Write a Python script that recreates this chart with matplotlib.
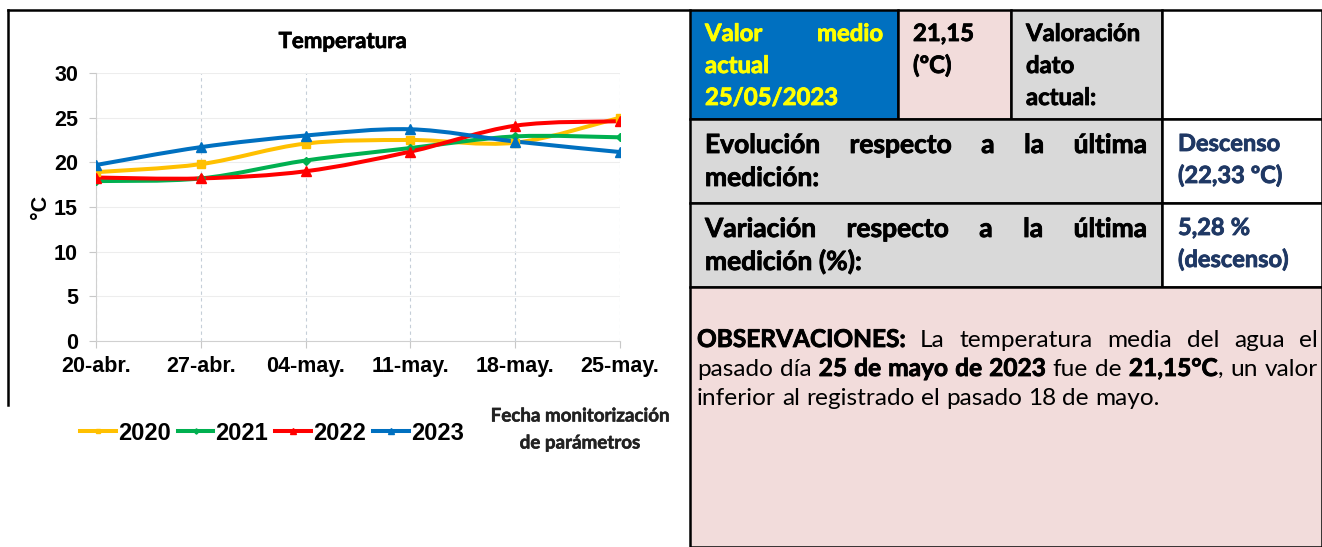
import numpy as np
import matplotlib
matplotlib.use("Agg")
import matplotlib.pyplot as plt
import matplotlib.patheffects as pe
from matplotlib.path import Path
from matplotlib.patches import PathPatch, Rectangle
from matplotlib.lines import Line2D

# ---- data -------------------------------------------------------------
fechas = ["20-abr.", "27-abr.", "04-may.", "11-may.", "18-may.", "25-may."]
t2020 = [18.9, 19.8, 22.1, 22.5, 22.2, 25.0]
t2021 = [17.9, 18.2, 20.2, 21.6, 22.9, 22.8]
t2022 = [18.3, 18.2, 19.0, 21.2, 24.1, 24.6]
t2023 = [19.7, 21.7, 23.0, 23.7, 22.33, 21.15]
anios = ["2020", "2021", "2022", "2023"]
series = [t2020, t2021, t2022, t2023]
colores = ["#FFC000", "#00B050", "#FF0000", "#0070C0"]
marcadores = [("s", 6), ("D", 4.5), ("^", 7), ("^", 7)]

NARROW = ["Liberation Sans Narrow", "Liberation Sans", "DejaVu Sans"]
SANS = ["Lato", "DejaVu Sans"]
W, H = 1322, 547


def smooth_path(xs, ys):
    # Bezier through the points (Excel-like "smoothed line")
    pts = np.column_stack([xs, ys]).astype(float)
    ext = np.vstack([pts[0], pts, pts[-1]])
    verts = [pts[0]]
    codes = [Path.MOVETO]
    for i in range(len(pts) - 1):
        p0, p1, p2, p3 = ext[i], ext[i + 1], ext[i + 2], ext[i + 3]
        verts += [p1 + (p2 - p0) / 6, p2 - (p3 - p1) / 6, p2]
        codes += [Path.CURVE4] * 3
    return Path(verts, codes)


fig = plt.figure(figsize=(W / 100, H / 100), dpi=100)
fig.patch.set_facecolor("white")

# ---- chart -------------------------------------------------------------
ax = fig.add_axes([96 / W, 1 - 341 / H, 524 / W, 268 / H])
x = np.arange(len(fechas))
for vals, col, (mk, ms) in zip(series, colores, marcadores):
    ax.add_patch(PathPatch(smooth_path(x, vals), facecolor="none",
                           edgecolor=col, lw=2.9, capstyle="round", zorder=3))
    ax.plot(x, vals, ls="none", marker=mk, ms=ms, color=col, zorder=4)

ax.set_xlim(0, 5)
ax.set_ylim(0, 30)
ax.set_yticks(range(0, 31, 5))
ax.set_xticks(x)
ax.set_xticklabels(fechas)
for lab in ax.get_xticklabels() + ax.get_yticklabels():
    lab.set_family(NARROW)
    lab.set_fontweight("bold")
    lab.set_fontsize(15.5)
ax.tick_params(axis="both", colors="#C8C8C8", labelcolor="black", length=5)
ax.tick_params(axis="x", pad=6)
ax.tick_params(axis="y", pad=8)
ax.grid(axis="x", color="#C5CED8", ls=(0, (3, 3)), lw=0.8)
ax.grid(axis="y", color="#EDEDED", lw=0.8)
for s in ["top", "right"]:
    ax.spines[s].set_visible(False)
for s in ["left", "bottom"]:
    ax.spines[s].set_color("#D0D0D0")
ax.set_ylabel("°C", family=NARROW, fontweight="bold", fontsize=15.5, labelpad=2)
ax.set_title("Temperatura", family=SANS, fontweight="bold", fontsize=16, pad=18,
             x=(343 - 96) / 524,
             path_effects=[pe.withStroke(linewidth=0.5, foreground="black")])

handles = [Line2D([], [], color=c, lw=2.9, marker=m, ms=s * 0.6)
           for c, (m, s) in zip(colores, marcadores)]
fig.legend(handles, anios, loc="center", bbox_to_anchor=(272 / W, 1 - 433 / H),
           ncol=4, frameon=False, handlelength=1.5, handletextpad=0.1,
           columnspacing=0.3, prop={"family": NARROW, "weight": "bold", "size": 17})

# ---- overlay in pixel coordinates -----------------------------------------
ov = fig.add_axes([0, 0, 1, 1], zorder=-1)
ov.set_xlim(0, W)
ov.set_ylim(H, 0)
ov.axis("off")
ov.patch.set_alpha(0)

for yy, txt in [(416, "Fecha monitorización"), (443, "de parámetros")]:
    ov.text(580, yy, txt, family=SANS, fontweight="bold", fontsize=13.5,
            ha="center", va="center", color="#222222",
            path_effects=[pe.withStroke(linewidth=0.4, foreground="#222222")])

# chart frame
ov.plot([8, 690], [10, 10], color="black", lw=1.8)
ov.plot([8, 8], [10, 405], color="black", lw=1.8)

# table cells
celdas = [
    (690, 10, 898, 119, "#0070C0"),
    (898, 10, 1011, 119, "#F2DCDB"),
    (1011, 10, 1162, 119, "#D9D9D9"),
    (1162, 10, 1322, 119, "white"),
    (690, 119, 1162, 203, "#D9D9D9"),
    (1162, 119, 1322, 203, "white"),
    (690, 203, 1162, 287, "#D9D9D9"),
    (1162, 203, 1322, 287, "white"),
    (690, 287, 1322, 547, "#F2DCDB"),
]
for x0, y0, x1, y1, fc in celdas:
    ov.add_patch(Rectangle((x0, y0), x1 - x0, y1 - y0, facecolor=fc,
                           edgecolor="black", lw=1.8))

renderer = fig.canvas.get_renderer()


def space_w(size, weight):
    a = ov.text(0, 0, "n n", fontsize=size, fontweight=weight, family=SANS)
    b = ov.text(0, 0, "nn", fontsize=size, fontweight=weight, family=SANS)
    w = a.get_window_extent(renderer).width - b.get_window_extent(renderer).width
    a.remove()
    b.remove()
    return w


def linea(words, x0, x1, y, size, justify=True, color="black"):
    # words: list of words, each a list of (text, weight) segments
    arts, widths = [], []
    for word in words:
        segs = []
        for txt, wt in word:
            t = ov.text(0, y, txt, fontsize=size, fontweight=wt, family=SANS,
                        color=color, va="baseline", ha="left")
            if wt == "bold":
                t.set_path_effects([pe.withStroke(linewidth=0.6, foreground=color)])
            segs.append((t, t.get_window_extent(renderer).width))
        arts.append(segs)
        widths.append(sum(w for _, w in segs))
    if justify and len(arts) > 1:
        gap = (x1 - x0 - sum(widths)) / (len(arts) - 1)
    else:
        gap = space_w(size, "normal")
    xx = x0
    for segs, wd in zip(arts, widths):
        xs = xx
        for t, w in segs:
            t.set_x(xs)
            xs += w
        xx += wd + gap


def simple(text, weight="bold"):
    return [[(w, weight)] for w in text.split()]


# row 1
R1 = 17.2
linea(simple("Valor medio"), 705, 883, 41, R1, color="#FFFF00")
linea(simple("actual"), 705, 883, 73, R1, justify=False, color="#FFFF00")
linea(simple("25/05/2023"), 705, 883, 105, R1, justify=False, color="#FFFF00")
linea(simple("21,15"), 913, 1000, 41, R1, justify=False)
linea(simple("(ºC)"), 913, 1000, 73, R1, justify=False)
linea(simple("Valoración"), 1026, 1150, 41, R1, justify=False)
linea(simple("dato"), 1026, 1150, 73, R1, justify=False)
linea(simple("actual:"), 1026, 1150, 105, R1, justify=False)

# rows 2 and 3
R2 = 19
linea(simple("Evolución respecto a la última"), 705, 1147, 153, R2)
linea(simple("medición:"), 705, 1147, 186, R2, justify=False)
linea(simple("Variación respecto a la última"), 705, 1147, 237, R2)
linea(simple("medición (%):"), 705, 1147, 270, R2, justify=False)
AZUL = "#1F3864"
R3 = 17
linea(simple("Descenso"), 1178, 1310, 151, R3, justify=False, color=AZUL)
linea(simple("(22,33 ºC)"), 1178, 1310, 183, R3, justify=False, color=AZUL)
linea(simple("5,28 %"), 1178, 1310, 235, R3, justify=False, color=AZUL)
linea(simple("(descenso)"), 1178, 1310, 267, R3, justify=False, color=AZUL)

# observations
R4 = 17.6
obs1 = [[("OBSERVACIONES:", "bold")]] + simple("La temperatura media del agua el", "normal")
obs2 = (simple("pasado día", "normal") + simple("25 de mayo de 2023", "bold")
        + simple("fue de", "normal") + [[("21,15°C", "bold"), (",", "normal")]]
        + simple("un valor", "normal"))
obs3 = simple("inferior al registrado el pasado 18 de mayo.", "normal")
linea(obs1, 697, 1318, 347, R4)
linea(obs2, 697, 1318, 376, R4)
linea(obs3, 697, 1318, 405, R4, justify=False)

fig.savefig("out.png", dpi=100)
